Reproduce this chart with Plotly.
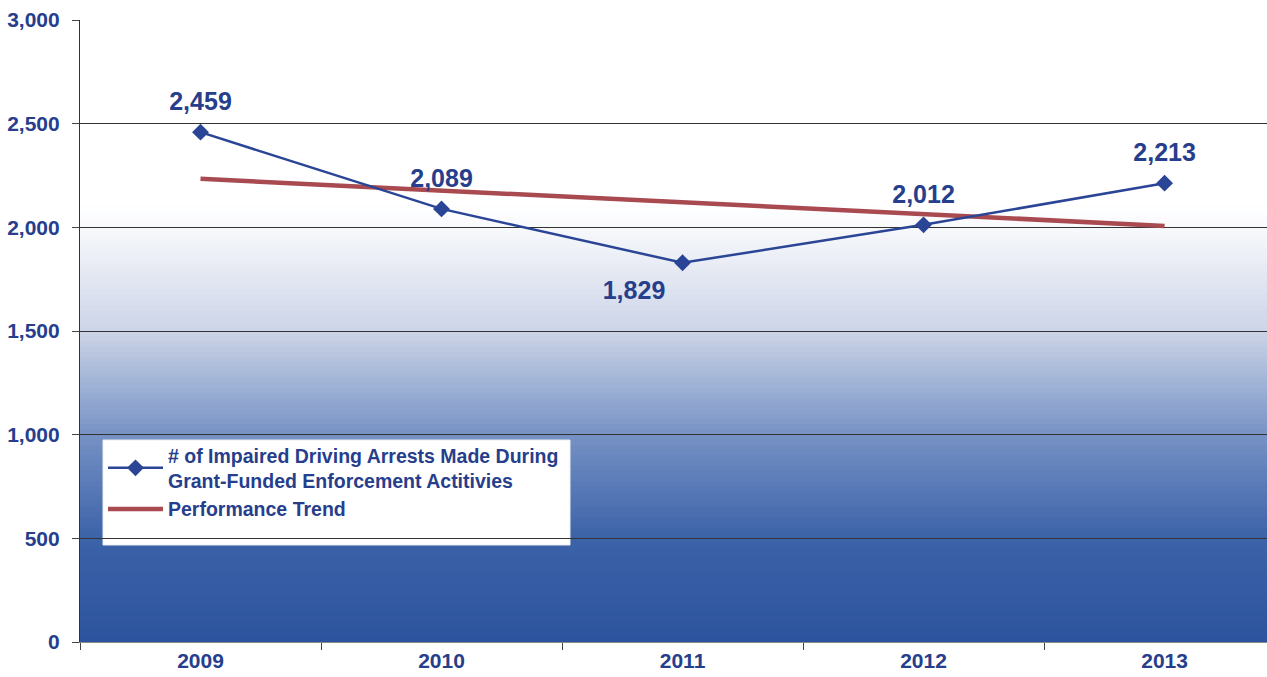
import plotly.graph_objects as go

years = ["2009", "2010", "2011", "2012", "2013"]
arrests = [2459, 2089, 1829, 2012, 2213]
trend = [2234, 2177, 2120, 2063, 2007]
label_pos = ["above", "above", "below", "above", "above"]
y_ticks = [0, 500, 1000, 1500, 2000, 2500, 3000]

series_name = "# of Impaired Driving Arrests Made During<br>Grant-Funded Enforcement Actitivies"
trend_name = "Performance Trend"

NAVY = "rgb(38,62,140)"
FONT = "Liberation Sans, Arial, sans-serif"

fig = go.Figure()

fig.add_trace(go.Scatter(
    x=years, y=trend, mode="lines", name=trend_name,
    line=dict(color="rgb(168,74,80)", width=4.5),
))
fig.add_trace(go.Scatter(
    x=years, y=arrests, mode="lines+markers", name=series_name,
    line=dict(color="rgb(42,68,150)", width=2.5),
    marker=dict(symbol="diamond", size=13, color="rgb(42,68,150)"),
))

# gradient background
stops = [(0, (44, 84, 158)), (500, (60, 98, 168)), (1000, (118, 146, 196)),
         (1500, (204, 212, 231)), (2000, (248, 249, 252)), (2100, (255, 255, 255))]

def color_at(v):
    for (v0, c0), (v1, c1) in zip(stops[:-1], stops[1:]):
        if v0 <= v <= v1:
            t = (v - v0) / (v1 - v0)
            return "rgb(%d,%d,%d)" % tuple(round(a + (b - a) * t) for a, b in zip(c0, c1))
    return "rgb(255,255,255)"

shapes = []
nb = 84
top = 2100
for i in range(nb):
    y0 = top * i / nb
    y1 = top * (i + 1) / nb
    shapes.append(dict(type="rect", xref="paper", yref="y", x0=0, x1=1, y0=y0, y1=y1 + 8,
                       fillcolor=color_at((y0 + y1) / 2), line=dict(width=0), layer="below"))
# legend box
shapes.append(dict(type="rect", xref="paper", yref="paper",
                   x0=23 / 1187, x1=490 / 1187, y0=97 / 622, y1=202 / 622,
                   fillcolor="white", line=dict(color="rgb(235,238,245)", width=1), layer="between"))

fig.add_trace(go.Scatter(
    x=years, y=arrests, mode="markers+text", showlegend=False, hoverinfo="skip",
    marker=dict(size=[24 if p == "above" else 26 for p in label_pos], opacity=0),
    text=[f"{v:,}" for v in arrests],
    textposition=["top center" if p == "above" else "bottom left" for p in label_pos],
    textfont=dict(family=FONT, size=25, color=NAVY, weight="bold"),
))

fig.update_layout(
    width=1267, height=677,
    margin=dict(l=80, r=0, t=20, b=35),
    paper_bgcolor="white", plot_bgcolor="white",
    shapes=shapes,
    showlegend=True,
    legend=dict(x=23 / 1187, y=206 / 622, xanchor="left", yanchor="top",
                bgcolor="rgba(0,0,0,0)", borderwidth=0,
                font=dict(family=FONT, size=19.5, color=NAVY, weight="bold"),
                tracegroupgap=2, itemwidth=55, traceorder="reversed"),
    xaxis=dict(type="category", range=[-0.5, 4.425], tickson="boundaries",
               ticks="outside", ticklen=7, tickcolor="#444",
               showline=True, linecolor="#888", linewidth=1, showgrid=False,
               tickfont=dict(family=FONT, size=21, color=NAVY, weight="bold")),
    yaxis=dict(range=[0, 3000], tickvals=y_ticks, tickformat=",",
               ticks="outside", ticklen=7, tickcolor="#444",
               showline=True, linecolor="#333", linewidth=1.2,
               showgrid=True, gridcolor="#333", gridwidth=1, zeroline=False,
               ticklabelstandoff=8,
               tickfont=dict(family=FONT, size=21, color=NAVY, weight="bold")),
)

fig.write_html("out.html", config={"displayModeBar": False},
               post_script="document.body.style.margin='0';document.body.style.overflow='hidden';")
